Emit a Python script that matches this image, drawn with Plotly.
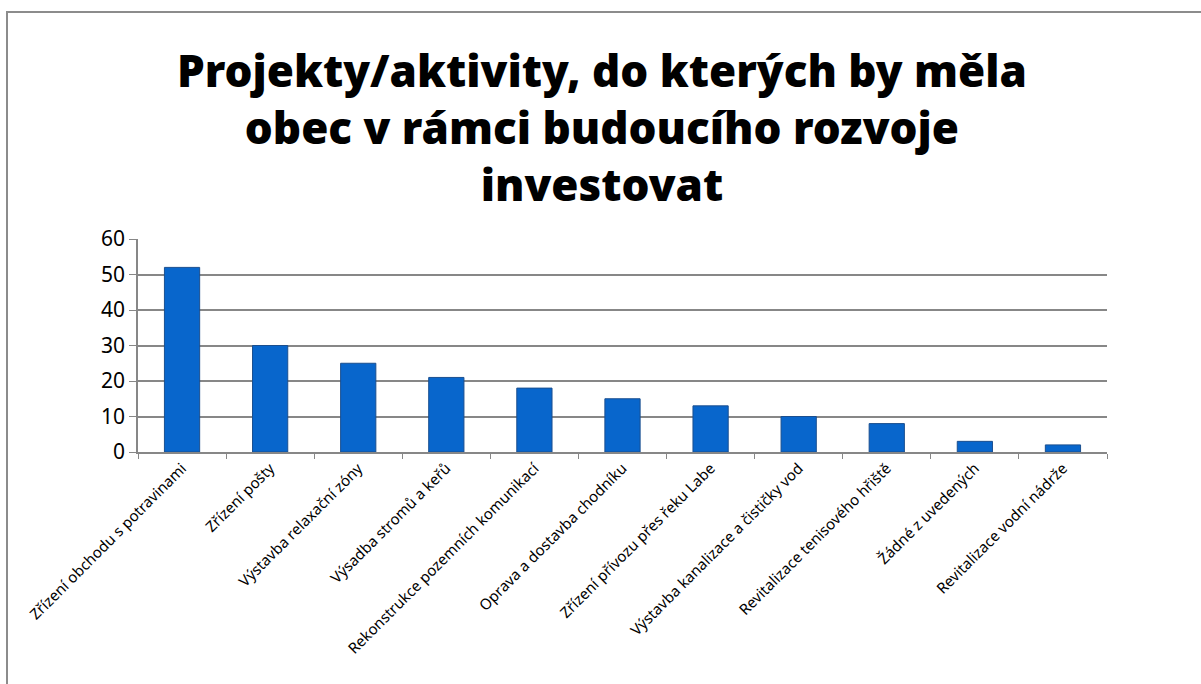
import plotly.graph_objects as go

categories = [
    "Zřízení obchodu s potravinami",
    "Zřízení pošty",
    "Výstavba relaxační zóny",
    "Výsadba stromů a keřů",
    "Rekonstrukce pozemních komunikací",
    "Oprava a dostavba chodníku",
    "Zřízení přívozu přes řeku Labe",
    "Výstavba kanalizace a čističky vod",
    "Revitalizace tenisového hřiště",
    "Žádné z uvedených",
    "Revitalizace vodní nádrže",
]
values = [52, 30, 25, 21, 18, 15, 13, 10, 8, 3, 2]
y_ticks = [0, 10, 20, 30, 40, 50, 60]

title_text = "Projekty/aktivity, do kterých by měla<br>obec v rámci budoucího rozvoje<br>investovat"

fig = go.Figure()
fig.add_trace(go.Bar(
    x=categories,
    y=values,
    width=0.4,
    marker=dict(color="#0866CC", line=dict(color="#1B4F8F", width=1)),
))

fig.update_layout(
    width=1201,
    height=684,
    paper_bgcolor="white",
    plot_bgcolor="white",
    showlegend=False,
    margin=dict(l=138, r=94, t=239, b=232),
    annotations=[
        dict(text=title_text, xref="paper", yref="paper",
             x=(602 - 138) / 969, y=(452 - 127) / 213,
             xanchor="center", yanchor="middle", showarrow=False,
             font=dict(family="Noto Sans", size=44, color="black", weight=900)),
    ],
    xaxis=dict(
        type="category",
        tickangle=-45,
        tickfont=dict(family="Noto Sans", size=15, color="black"),
        showline=True, linecolor="#878787", linewidth=1.5,
        ticks="outside", tickson="boundaries", ticklen=5, tickcolor="#878787",
        showgrid=False,
        range=[-0.5, len(categories) - 0.5],
    ),
    yaxis=dict(
        range=[0, 60],
        tickvals=y_ticks,
        tickfont=dict(family="Noto Sans", size=21, color="black"),
        showline=True, linecolor="#878787", linewidth=1.5,
        ticks="outside", ticklen=7, tickcolor="#878787",
        showgrid=True, gridcolor="#878787", gridwidth=1.5,
        zeroline=False,
    ),
    shapes=[
        dict(type="rect", xref="paper", yref="paper",
             x0=(7 - 138) / 969, x1=1.2, y0=-5, y1=(452 - 12) / 213,
             line=dict(color="#8C8C8C", width=2), fillcolor="rgba(0,0,0,0)", layer="below"),
    ],
)

fig.write_html(
    "out.html",
    config={"displayModeBar": False},
    post_script="document.body.style.margin='0';document.body.style.overflow='hidden';",
)
